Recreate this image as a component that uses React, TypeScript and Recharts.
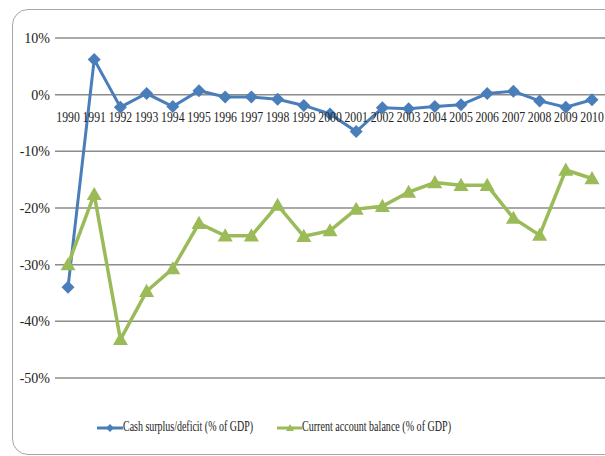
import { CartesianGrid, Legend, Line, LineChart, XAxis, YAxis } from 'recharts'

// values in % of GDP
const years = [
  '1990', '1991', '1992', '1993', '1994', '1995', '1996', '1997', '1998', '1999', '2000',
  '2001', '2002', '2003', '2004', '2005', '2006', '2007', '2008', '2009', '2010',
]
const cashSurplus = [
  -34, 6.2, -2.2, 0.2, -2.1, 0.7, -0.4, -0.4, -0.8, -1.9, -3.4,
  -6.5, -2.3, -2.5, -2.1, -1.8, 0.2, 0.6, -1.1, -2.2, -0.9,
]
const currentAccount = [
  -30, -17.6, -43.2, -34.7, -30.7, -22.7, -24.9, -24.9, -19.5, -25, -24,
  -20.2, -19.7, -17.2, -15.5, -16, -16, -21.8, -24.8, -13.3, -14.8,
]
const yTicks = [10, 0, -10, -20, -30, -40, -50]

const BLUE = '#4a7ebb'
const GREEN = '#9bbb59'
const FONT = '"Liberation Serif", "Times New Roman", serif'

const W = 605
const H = 456
const LEFT = 55
const TOP = 38
const PLOT_H = 340
const Y_MIN = -50
const Y_MAX = 10
// the category labels sit just under the 0% line, like Excel's crossing axis
const ZERO_Y = TOP + (PLOT_H * Y_MAX) / (Y_MAX - Y_MIN)

const rows = years.map((year, i) => ({
  year,
  cash: cashSurplus[i],
  current: currentAccount[i],
}))

function Diamond({ cx, cy, size = 6 }: any) {
  if (cx == null || cy == null) return null
  const r = size
  return (
    <polygon
      points={`${cx},${cy - r} ${cx + r},${cy} ${cx},${cy + r} ${cx - r},${cy}`}
      fill={BLUE}
    />
  )
}

function Triangle({ cx, cy, size = 7 }: any) {
  if (cx == null || cy == null) return null
  const r = size
  return (
    <polygon
      points={`${cx},${cy - r} ${cx + r},${cy + r * 0.75} ${cx - r},${cy + r * 0.75}`}
      fill={GREEN}
    />
  )
}

function YearTick({ x, payload }: any) {
  return (
    <text
      x={x}
      y={ZERO_Y + 24}
      textAnchor="middle"
      dominantBaseline="middle"
      fontFamily={FONT}
      fontSize={14}
      fill="#222"
      textLength={23.5}
      lengthAdjust="spacingAndGlyphs"
    >
      {payload.value}
    </text>
  )
}

function LegendBox() {
  return (
    <svg width={W} height={24} style={{ display: 'block' }}>
      <line x1={97} x2={123} y1={12} y2={12} stroke={BLUE} strokeWidth={3} />
      <Diamond cx={110} cy={12} size={4} />
      <text
        x={123}
        y={12}
        dominantBaseline="middle"
        fontFamily={FONT}
        fontSize={15}
        fill="#222"
        textLength={130}
        lengthAdjust="spacingAndGlyphs"
      >
        Cash surplus/deficit (% of GDP)
      </text>
      <line x1={277} x2={302} y1={12} y2={12} stroke={GREEN} strokeWidth={3} />
      <Triangle cx={290} cy={12} size={4} />
      <text
        x={302}
        y={12}
        dominantBaseline="middle"
        fontFamily={FONT}
        fontSize={15}
        fill="#222"
        textLength={149}
        lengthAdjust="spacingAndGlyphs"
      >
        Current account balance (% of GDP)
      </text>
    </svg>
  )
}

export default function App() {
  return (
    <div
      style={{
        position: 'fixed',
        left: 0,
        top: 0,
        width: W,
        height: H,
        overflow: 'hidden',
        background: '#fff',
      }}
    >
      <style>{'html, body { margin: 0; overflow: hidden; }'}</style>
      <div
        style={{
          position: 'absolute',
          left: 12,
          top: 9,
          width: 640,
          height: 446,
          border: '1.5px solid #a6a6a6',
          borderRadius: 16,
          boxSizing: 'border-box',
        }}
      />
      <LineChart
        width={W}
        height={H}
        data={rows}
        margin={{ top: TOP, right: 0, bottom: 48, left: LEFT - 40 }}
        style={{ position: 'absolute', left: 0, top: 0 }}
      >
        <CartesianGrid vertical={false} stroke="#8c8c8c" strokeWidth={1.5} />
        <XAxis
          dataKey="year"
          axisLine={false}
          tickLine={false}
          height={H - TOP - PLOT_H - 48}
          interval={0}
          padding={{ left: 13, right: 13 }}
          tick={<YearTick />}
        />
        <YAxis
          domain={[Y_MIN, Y_MAX]}
          ticks={yTicks}
          axisLine={false}
          tickLine={false}
          tickSize={3}
          width={40}
          tickFormatter={(v: number) => `${v}%`}
          tick={{ fontFamily: FONT, fontSize: 14, fill: '#222' }}
        />
        <Legend
          content={<LegendBox />}
          wrapperStyle={{ position: 'absolute', left: 0, top: 416, width: W, height: 0 }}
        />
        <Line
          dataKey="cash"
          name="Cash surplus/deficit (% of GDP)"
          stroke={BLUE}
          strokeWidth={3}
          dot={(p: any) => <Diamond key={`c${p.index}`} cx={p.cx} cy={p.cy} size={6.5} />}
          activeDot={false}
          isAnimationActive={false}
        />
        <Line
          dataKey="current"
          name="Current account balance (% of GDP)"
          stroke={GREEN}
          strokeWidth={3.5}
          dot={(p: any) => <Triangle key={`g${p.index}`} cx={p.cx} cy={p.cy} size={7.5} />}
          activeDot={false}
          isAnimationActive={false}
        />
      </LineChart>
    </div>
  )
}
